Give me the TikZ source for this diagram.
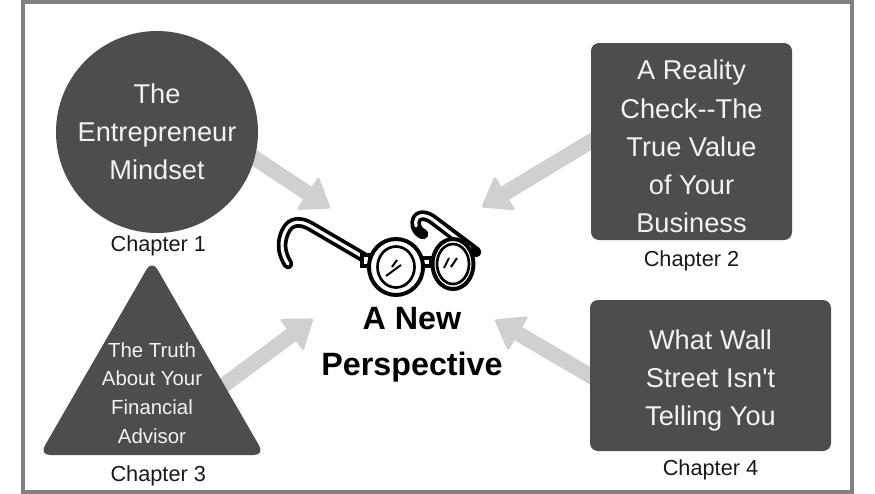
\documentclass[tikz,border=0pt]{standalone}
\usepackage{fontspec}
\setmainfont{Liberation Sans}
\usepackage{tikz}
\usetikzlibrary{shapes.geometric, positioning, calc, arrows.meta, backgrounds}

\definecolor{darkfill}{HTML}{4D4D4D}
\definecolor{paletext}{HTML}{F2F2F2}
\definecolor{pointergray}{HTML}{D0D0D0}
\definecolor{framegray}{HTML}{808080}
\newcommand{\toppad}{\rule{0pt}{22.5pt}}

\begin{document}
\begin{tikzpicture}[x=.75pt, y=-.75pt, node distance=2pt]
        \tikzstyle{topic}=[fill=darkfill, text=paletext, align=center, inner sep=0pt, font=\fontsize{20.4}{28.7}\selectfont];
        \tikzstyle{chapter}=[inner sep=0pt, text=black!90, font=\fontsize{16.3}{20}\selectfont];
        \tikzstyle{pointer}=[-{Triangle[length=21pt, width=30pt, line width=2pt, round, fill=pointergray]}, draw=pointergray, line width=11.5pt];
        \tikzstyle{wire}=[line width=8pt, line cap=round, line join=round];
        \useasboundingbox (0,0) rectangle (875,493);
        \draw[framegray, line width=3pt] (23,1.5) rectangle (852,491.5);

        \node[topic, circle, minimum size=151.5pt] (mindset) at (157,132) {The\\Entrepreneur\\Mindset};
        \node[topic, rectangle, rounded corners=6pt, minimum width=150.75pt, minimum height=147.75pt] (reality) at (691.5,141.5) {\toppad A Reality\\Check{-}{-}The\\True Value\\of Your\\Business};
        \node[topic, regular polygon, regular polygon sides=3, rounded corners=8pt, minimum size=195pt] (advisor) at (152,390) {};
        \node[text=paletext, align=center, font=\fontsize{15.3}{21.5}\selectfont] (advisortext) at (152,393) {The Truth\\About Your\\Financial\\Advisor};
        \node[topic, rectangle, rounded corners=6pt, minimum width=180.75pt, minimum height=113.25pt] (wallstreet) at (710.5,375.5) {\toppad What Wall\\Street Isn\textquotesingle t\\Telling You};

        \node[chapter, below=1.5pt of mindset, xshift=1pt] (chapter1) {Chapter 1};
        \node[chapter, below=7.5pt of reality] (chapter2) {Chapter 2};
        \node[chapter, below=8pt of advisor.corner 2, anchor=north west, xshift=53.5pt] (chapter3) {Chapter 3};
        \node[chapter, below=6pt of wallstreet] (chapter4) {Chapter 4};
        \node[align=center, font=\fontsize{24.2}{34.5}\selectfont\bfseries] (perspective) at (412,345) {A New\\Perspective};

        \coordinate (tip1) at (330,208);
        \coordinate (tip2) at (482,207);
        \coordinate (tip3) at (313,319);
        \coordinate (tip4) at (495,320);

        \begin{scope}[on background layer]
        \draw[pointer, shorten <=-6pt] (mindset.-15) -- (tip1);
        \draw[pointer, shorten <=-6pt] (reality.west) -- (tip2);
        \draw[pointer, shorten <=-6pt] ($(advisor.corner 1)!.64!(advisor.corner 3)$) -- (tip3);
        \draw[pointer, shorten <=-6pt] (wallstreet.west) -- (tip4);
        \end{scope}

        % glasses
        \draw[wire, black] (365,258) -- (312,227) .. controls (297,218) and (287,222) .. (283,238) .. controls (281,246) and (282,254) .. (288,264);
        \draw[wire, white, line width=2.4pt] (365,258) -- (312,227) .. controls (297,218) and (287,222) .. (283,238) .. controls (281,246) and (282,254) .. (288,264);
        \draw[wire, black] (476,252) -- (432,219) .. controls (423,213) and (414,215) .. (416,226) .. controls (417,230) and (420,233) .. (423,234);
        \draw[wire, white, line width=2.4pt] (470,248) -- (432,219) .. controls (423,213) and (414,215) .. (416,226);
        \draw[black, line width=3pt, fill=white] (362,255) rectangle (370,266);
        \draw[black, line width=3pt, fill=white] (421,258) rectangle (431,266);
        \draw[black, line width=3pt, fill=white] (396,267) circle [x radius=27, y radius=28];
        \draw[black, line width=2pt] (396,267) circle [x radius=18.5, y radius=20.5];
        \draw[black, line width=3pt, fill=white] (453,264) circle [x radius=20.5, y radius=25];
        \draw[black, line width=2pt] (453,264) circle [x radius=16, y radius=20];
        \draw[black, line width=1.5pt] (386,276) -- (401,265);
        \draw[black, line width=1.5pt] (392,267) -- (397,260);
        \draw[black, line width=1.5pt] (444,268) -- (449,258);
        \draw[black, line width=1.5pt] (451,267) -- (457,258);
      \end{tikzpicture}
\end{document}
